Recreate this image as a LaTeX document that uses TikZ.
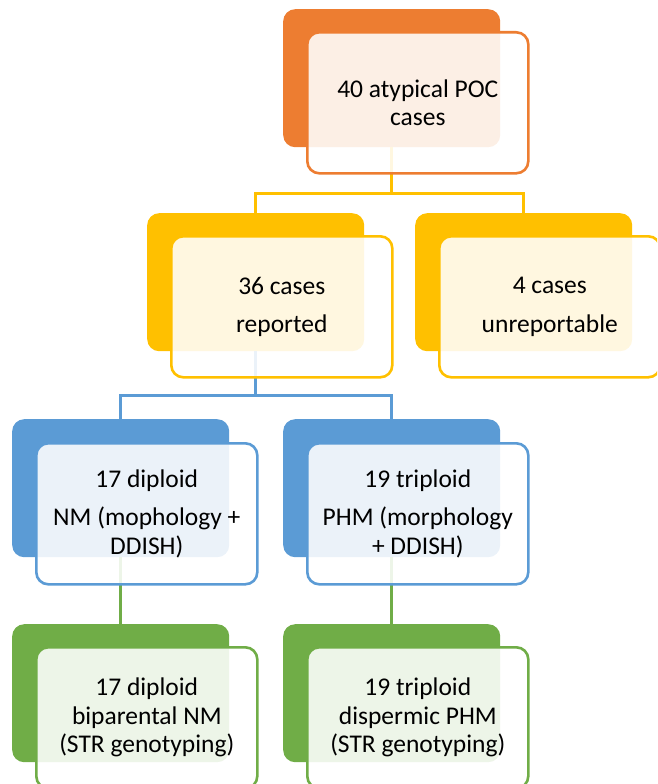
\documentclass[tikz,border=0pt]{standalone}
\usepackage{fontspec}
\setmainfont{Carlito}
\definecolor{corange}{HTML}{ED7D31}
\definecolor{cgold}{HTML}{FFC000}
\definecolor{cblue}{HTML}{5B9BD5}
\definecolor{cgreen}{HTML}{70AD47}
\tikzset{
  backbox/.style={rectangle, rounded corners=12pt, fill=#1, minimum width=217pt,
    minimum height=138pt, anchor=north west, inner sep=0pt},
  frontbox/.style={rectangle, rounded corners=12pt, draw=#1, line width=2.6pt,
    fill=white, fill opacity=0.88, text opacity=1, minimum width=221pt,
    minimum height=141pt, anchor=north west, align=center, inner sep=0pt,
    font=\fontsize{25.5}{28.5}\selectfont},
  link/.style={draw=#1, line width=2.6pt}
}
\begin{document}
\begin{tikzpicture}[x=1pt,y=-1pt]
  \useasboundingbox (0,0) rectangle (657,784);
  \clip (0,0) rectangle (657,784);

  % back (solid) cards
  \node[backbox=corange] (top)  at (283,9)   {};
  \node[backbox=cgold]   (l2l)  at (147,213) {};
  \node[backbox=cgold]   (l2r)  at (415,213) {};
  \node[backbox=cblue]   (l3l)  at (12,419)  {};
  \node[backbox=cblue]   (l3r)  at (283,419) {};
  \node[backbox=cgreen]  (l4l)  at (12,624)  {};
  \node[backbox=cgreen]  (l4r)  at (283,624) {};

  % connectors between the cards
  \draw[link=cgold] (top.south) -- ++(0,46) coordinate (j1);
  \draw[link=cgold] (l2l.north) |- (j1) -| (l2r.north);
  \draw[link=cblue] (l2l.south) -- ++(0,44) coordinate (j2);
  \draw[link=cblue] (l3l.north) |- (j2) -| (l3r.north);
  \draw[link=cgreen] (l3l.south) -- (l4l.north);
  \draw[link=cgreen] (l3r.south) -- (l4r.north);

  % front (outlined) cards with the text
  \node[frontbox=corange] (topf) at (306,31)  {40 atypical POC\\cases};
  \node[frontbox=cgold]   (l2lf) at (170,235) {36 cases\\[10pt]reported};
  \node[frontbox=cgold]   (l2rf) at (438,235) {4 cases\\[10pt]unreportable};
  \node[frontbox=cblue]   (l3lf) at (35,442)  {17 diploid\\[10pt]NM (mophology +\\DDISH)};
  \node[frontbox=cblue]   (l3rf) at (306,442) {19 triploid\\[10pt]PHM (morphology\\+ DDISH)};
  \node[frontbox=cgreen]  (l4lf) at (35,646)  {17 diploid\\biparental NM\\(STR genotyping)};
  \node[frontbox=cgreen]  (l4rf) at (306,646) {19 triploid\\dispermic PHM\\(STR genotyping)};
\end{tikzpicture}
\end{document}
